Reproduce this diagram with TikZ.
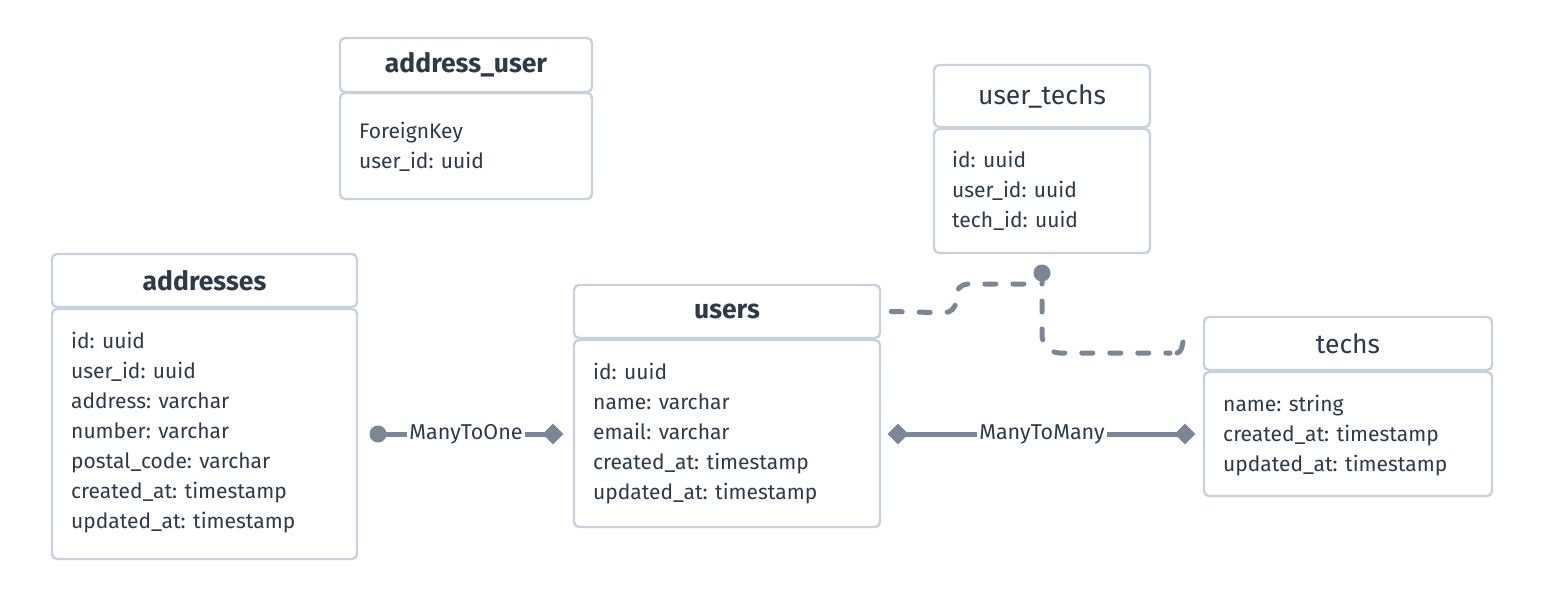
\documentclass[tikz,border=0pt]{standalone}
\usepackage{fontspec}
\setmainfont{Fira Sans}
\usetikzlibrary{shapes.geometric}
\definecolor{bordc}{HTML}{C8D2DC}
\definecolor{linec}{HTML}{7B8794}
\definecolor{txtc}{HTML}{2D3B48}
\tikzset{
  tbox/.style={draw=bordc, line width=2.4pt, rounded corners=5pt, fill=white, inner sep=0pt},
  hdrb/.style={tbox, font=\fontsize{26.5}{30}\selectfont\bfseries, text=txtc},
  hdrn/.style={tbox, font=\fontsize{26.5}{30}\selectfont, text=txtc},
  fld/.style={anchor=base west, inner sep=0pt, font=\fontsize{21}{30}\selectfont, text=txtc},
  conn/.style={draw=linec, line width=5pt},
  dconn/.style={draw=linec, line width=5pt, line cap=round, dash pattern=on 11pt off 17pt},
  dot/.style={circle, fill=linec, minimum size=17pt, inner sep=0pt},
  dia/.style={diamond, fill=linec, minimum size=21pt, inner sep=0pt},
  lbl/.style={inner sep=2pt, font=\fontsize{21.5}{24}\selectfont, text=txtc}
}
\begin{document}
\begin{tikzpicture}[x=1pt, y=-1pt]
\useasboundingbox[fill=white] (0,0) rectangle (1543,602);
% address_user
\node[hdrb, minimum width=252pt, minimum height=54pt] (auh) at (466,65) {address\_user};
\node[tbox, minimum width=252pt, minimum height=106pt] (aub) at (466,146) {};
\node[fld] (au1) at (359,138) {ForeignKey};
\node[fld] (au2) at (359,168) {user\_id: uuid};
% addresses
\node[hdrb, minimum width=305pt, minimum height=53pt] (adh) at (204.5,280.5) {addresses};
\node[tbox, minimum width=305pt, minimum height=250pt] (adb) at (204.5,434) {};
\node[fld] (ad1) at (71,348) {id: uuid};
\node[fld] (ad2) at (71,378) {user\_id: uuid};
\node[fld] (ad3) at (71,408) {address: varchar};
\node[fld] (ad4) at (71,438) {number: varchar};
\node[fld] (ad5) at (71,468) {postal\_code: varchar};
\node[fld] (ad6) at (71,498) {created\_at: timestamp};
\node[fld] (ad7) at (71,528) {updated\_at: timestamp};
% users
\node[hdrb, minimum width=306pt, minimum height=53pt] (ush) at (727,311.5) {users};
\node[tbox, minimum width=306pt, minimum height=187pt] (usb) at (727,433.5) {};
\node[fld] (us1) at (593,379) {id: uuid};
\node[fld] (us2) at (593,409) {name: varchar};
\node[fld] (us3) at (593,439) {email: varchar};
\node[fld] (us4) at (593,469) {created\_at: timestamp};
\node[fld] (us5) at (593,499) {updated\_at: timestamp};
% user_techs
\node[hdrn, minimum width=216pt, minimum height=62pt] (uth) at (1042,96) {user\_techs};
\node[tbox, minimum width=216pt, minimum height=124pt] (utb) at (1042,191) {};
\node[fld] (ut1) at (952,167) {id: uuid};
\node[fld] (ut2) at (952,197) {user\_id: uuid};
\node[fld] (ut3) at (952,227) {tech\_id: uuid};
% techs
\node[hdrn, minimum width=288pt, minimum height=53pt] (teh) at (1348,343.5) {techs};
\node[tbox, minimum width=288pt, minimum height=124pt] (teb) at (1348,434) {};
\node[fld] (te1) at (1223,411) {name: string};
\node[fld] (te2) at (1223,441) {created\_at: timestamp};
\node[fld] (te3) at (1223,471) {updated\_at: timestamp};
% ManyToOne
\node[dot] (m1a) at (378,434) {};
\node[lbl] (m1l) at (466,434) {ManyToOne};
\node[dia] (m1b) at (553,434) {};
\draw[conn] (m1a.center) -- (m1l.west);
\draw[conn] (m1l.east) -- (m1b.center);
% ManyToMany
\node[dia] (m2a) at (898,434) {};
\node[lbl] (m2l) at (1042,434) {ManyToMany};
\node[dia] (m2b) at (1185,434) {};
\draw[conn] (m2a.center) -- (m2l.west);
\draw[conn] (m2l.east) -- (m2b.center);
% dashed user_techs link
\coordinate (ds) at ([xshift=10pt]ush.east);
\coordinate (de) at (1183,342);
\coordinate (dm) at (1030,284);
\node[dot] (utd) at (1042,273) {};
\draw[dconn, rounded corners=12pt] (ds) -- (956,313) -- (956,284) -- (dm);
\draw[dconn, rounded corners=18pt] (utd.center) -- (1042,353) -- (1170,353);
\draw[draw=linec, line width=5pt, line cap=round] (1177,353) .. controls (1181,352) and (1182,348) .. (de);
\end{tikzpicture}
\end{document}
